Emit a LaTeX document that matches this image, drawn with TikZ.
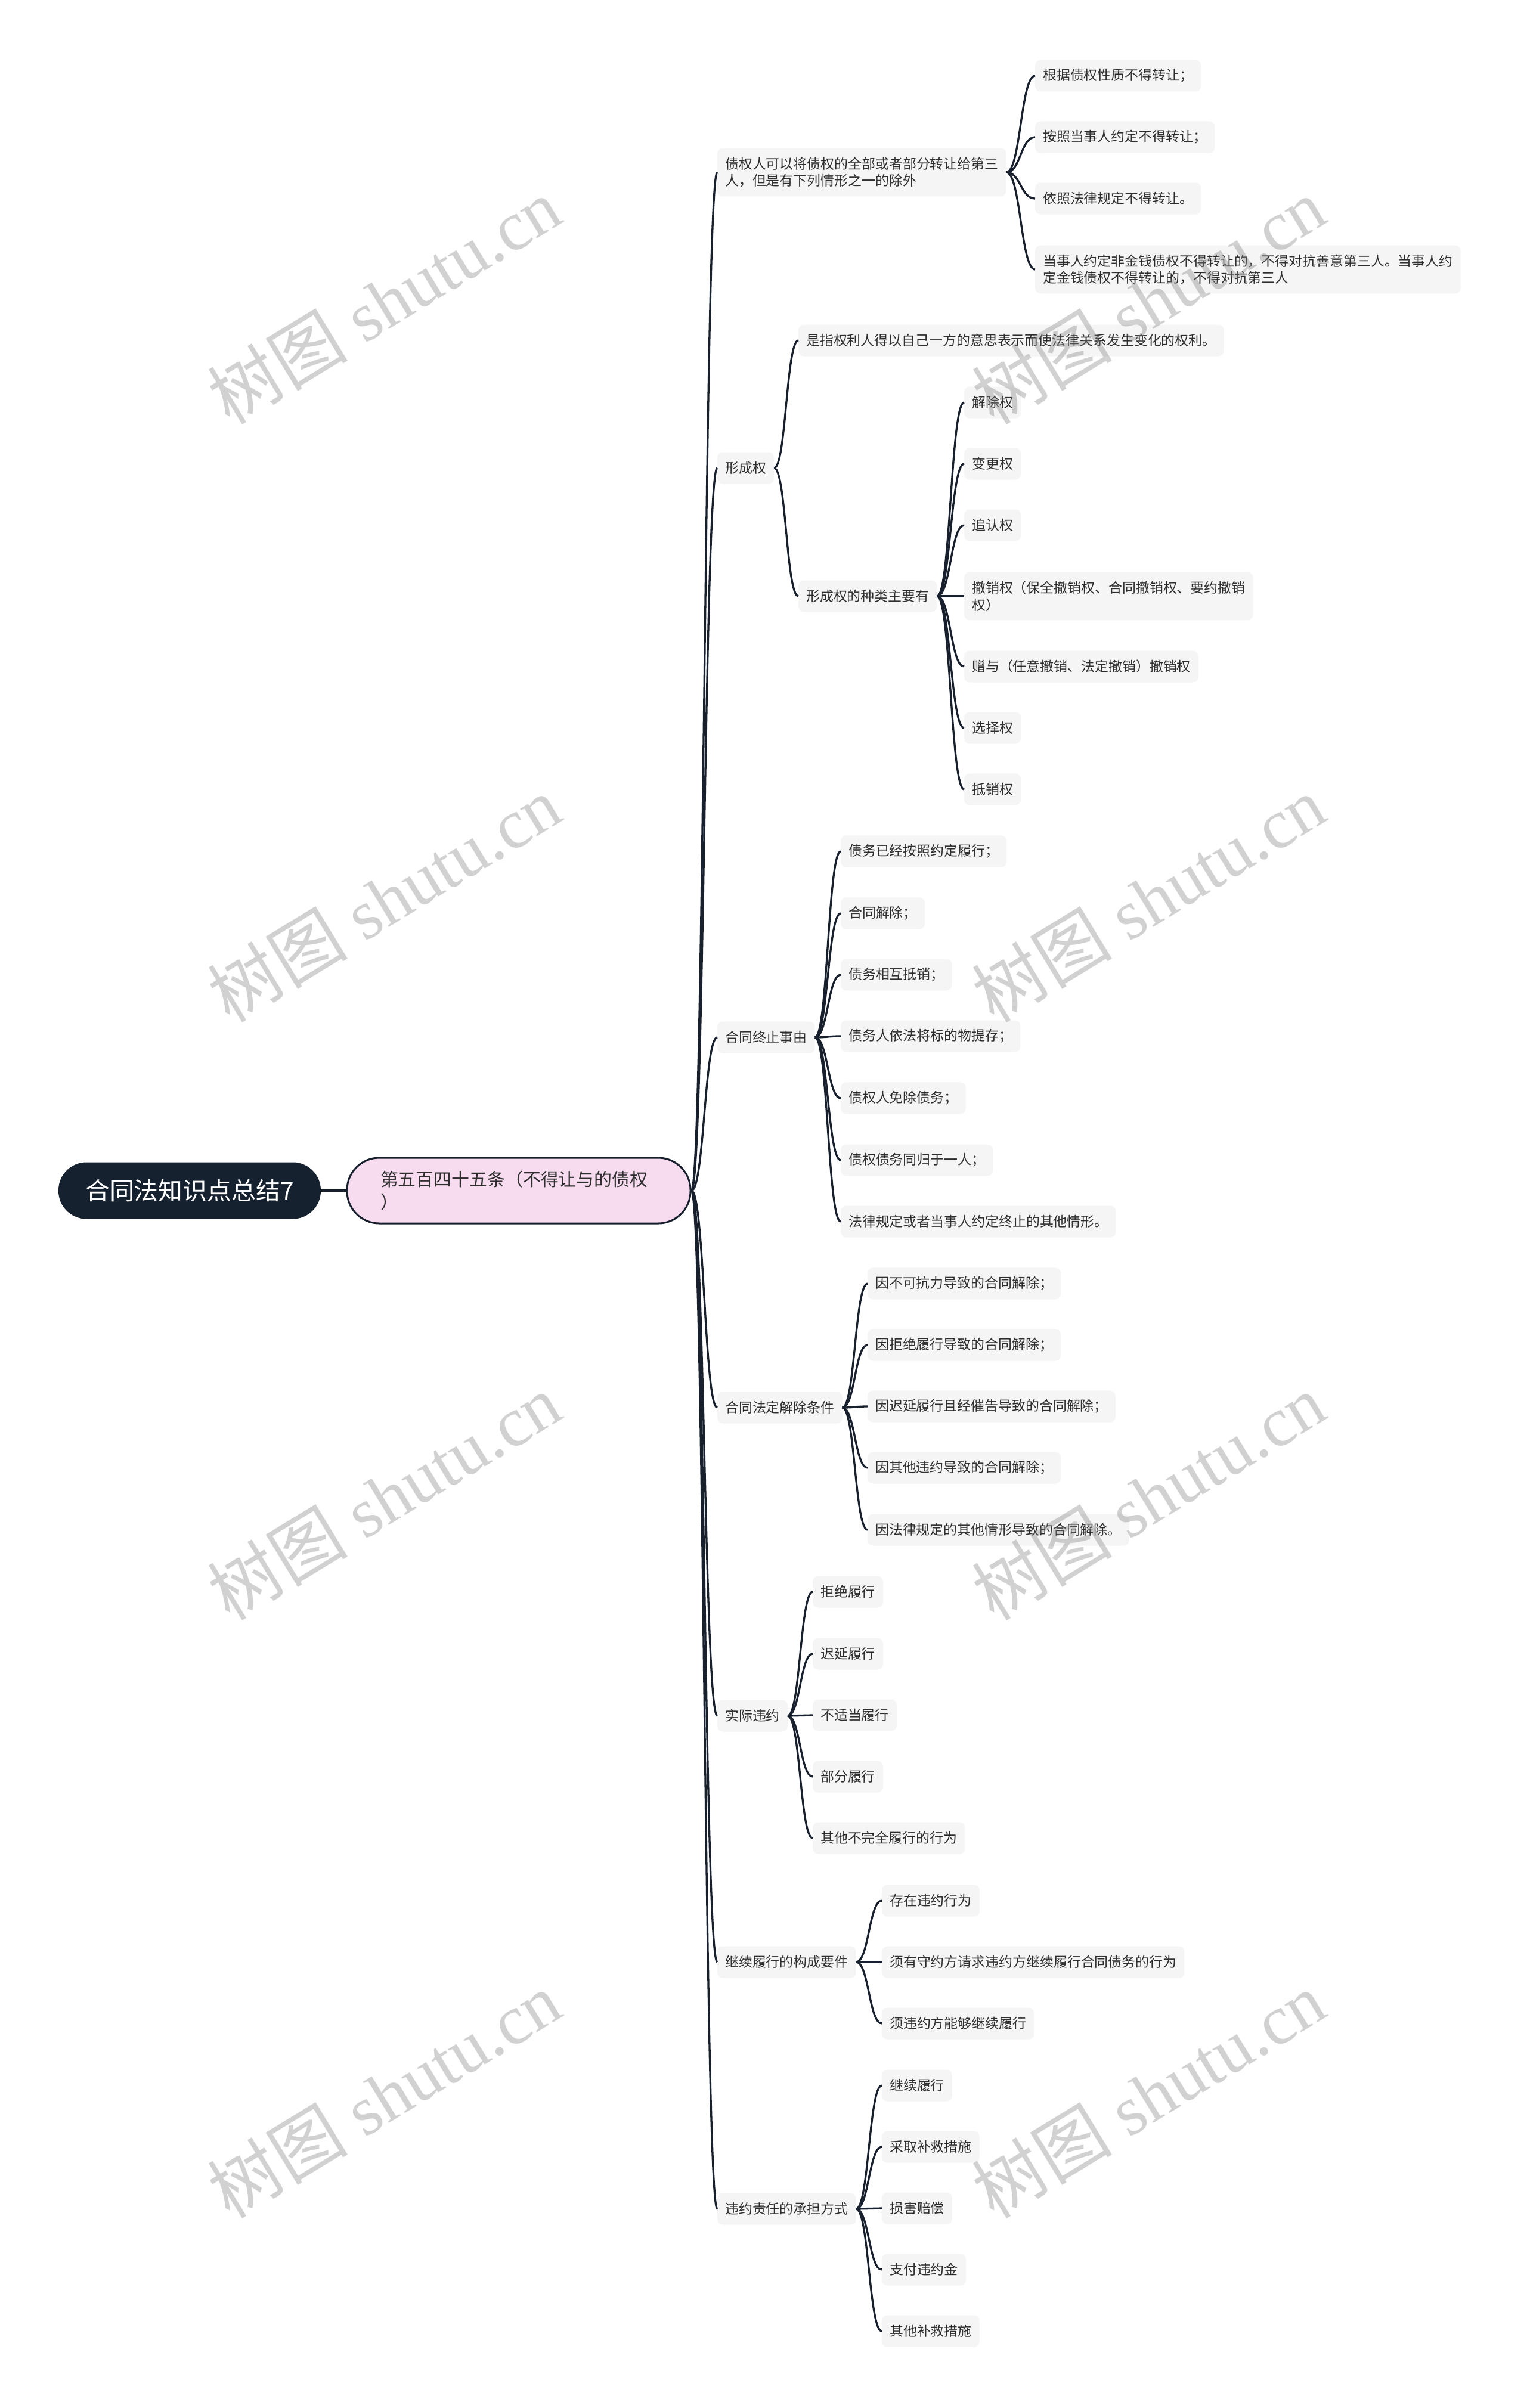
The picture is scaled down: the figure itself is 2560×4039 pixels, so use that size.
\documentclass[tikz,border=0pt]{standalone}
\usepackage{fontspec}
\setmainfont{Noto Sans CJK SC}
\newfontfamily\wmcjk{Noto Sans CJK SC}
\newfontfamily\wmlatin{Liberation Serif}
\usetikzlibrary{calc}
\definecolor{navy}{HTML}{16212F}
\definecolor{linec}{HTML}{18202E}
\definecolor{leaffill}{HTML}{F5F5F5}
\definecolor{pinkfill}{HTML}{F7DCF0}
\definecolor{txt}{HTML}{2E2E2E}
\definecolor{wm}{HTML}{808080}
\tikzset{
  leaf/.style={fill=leaffill, rounded corners=9bp, anchor=west, inner xsep=13bp, inner ysep=15bp,
    minimum height=53bp, align=left, text=txt, font=\fontsize{23}{29}\selectfont},
  rootbox/.style={fill=navy, text=white, minimum width=440bp, minimum height=95bp,
    rounded corners=47bp, inner sep=0pt, font=\fontsize{41}{46}\selectfont},
  pinkbox/.style={fill=pinkfill, draw=linec, line width=3bp, text=txt, text width=464bp,
    inner xsep=56bp, inner ysep=21bp, minimum height=110bp, rounded corners=54bp, align=left,
    font=\fontsize{30}{38}\selectfont},
  conn/.style={draw=linec, line width=3.3bp},
  wmark/.style={rotate=31.4, text=wm, text opacity=0.36, inner sep=0pt}
}
\newcommand\linkto[2]{\draw[conn] let \p1=(#1.east), \p2=(#2.west) in
  (\p1) .. controls ({0.5*\x1+0.5*\x2},\y1) and ({0.5*\x1+0.5*\x2},\y2) .. (\p2);}
\begin{document}
\begin{tikzpicture}[x=1bp,y=-1bp]
\fill[white] (0,0) rectangle (2560,4039);
\useasboundingbox (0,0) rectangle (2560,4039);

% root and main topic
\node[rootbox] (root) at (318,1997) {合同法知识点总结7};
\node[pinkbox] (main) at (870,1997) {第五百四十五条（不得让与的债权\\）};

% level 2
\node[leaf] (L1) at (1203,289) {债权人可以将债权的全部或者部分转让给第三\\人，但是有下列情形之一的除外};
\node[leaf] (L2) at (1203,785) {形成权};
\node[leaf] (L3) at (1203,1740) {合同终止事由};
\node[leaf] (L4) at (1203,2361) {合同法定解除条件};
\node[leaf] (L5) at (1203,2878) {实际违约};
\node[leaf] (L6) at (1203,3291) {继续履行的构成要件};
\node[leaf] (L7) at (1203,3705) {违约责任的承担方式};

% children of L1
\node[leaf] (A1) at (1736,127) {根据债权性质不得转让；};
\node[leaf] (A2) at (1736,230) {按照当事人约定不得转让；};
\node[leaf] (A3) at (1736,333) {依照法律规定不得转让。};
\node[leaf] (A4) at (1736,452) {当事人约定非金钱债权不得转让的，不得对抗善意第三人。当事人约\\定金钱债权不得转让的，不得对抗第三人};

% children of L2
\node[leaf] (B1) at (1339,571) {是指权利人得以自己一方的意思表示而使法律关系发生变化的权利。};
\node[leaf] (B2) at (1339,1000) {形成权的种类主要有};

% children of B2
\node[leaf] (C1) at (1617,675) {解除权};
\node[leaf] (C2) at (1617,778) {变更权};
\node[leaf] (C3) at (1617,881) {追认权};
\node[leaf] (C4) at (1617,1000) {撤销权（保全撤销权、合同撤销权、要约撤销\\权）};
\node[leaf] (C5) at (1617,1118) {赠与（任意撤销、法定撤销）撤销权};
\node[leaf] (C6) at (1617,1221) {选择权};
\node[leaf] (C7) at (1617,1324) {抵销权};

% children of L3
\node[leaf] (D1) at (1410,1428) {债务已经按照约定履行；};
\node[leaf] (D2) at (1410,1532) {合同解除；};
\node[leaf] (D3) at (1410,1635) {债务相互抵销；};
\node[leaf] (D4) at (1410,1738) {债务人依法将标的物提存；};
\node[leaf] (D5) at (1410,1842) {债权人免除债务；};
\node[leaf] (D6) at (1410,1946) {债权债务同归于一人；};
\node[leaf] (D7) at (1410,2049) {法律规定或者当事人约定终止的其他情形。};

% children of L4
\node[leaf] (E1) at (1455,2153) {因不可抗力导致的合同解除；};
\node[leaf] (E2) at (1455,2256) {因拒绝履行导致的合同解除；};
\node[leaf] (E3) at (1455,2359) {因迟延履行且经催告导致的合同解除；};
\node[leaf] (E4) at (1455,2462) {因其他违约导致的合同解除；};
\node[leaf] (E5) at (1455,2566) {因法律规定的其他情形导致的合同解除。};

% children of L5
\node[leaf] (F1) at (1363,2670) {拒绝履行};
\node[leaf] (F2) at (1363,2774) {迟延履行};
\node[leaf] (F3) at (1363,2877) {不适当履行};
\node[leaf] (F4) at (1363,2980) {部分履行};
\node[leaf] (F5) at (1363,3083) {其他不完全履行的行为};

% children of L6
\node[leaf] (G1) at (1479,3188) {存在违约行为};
\node[leaf] (G2) at (1479,3291) {须有守约方请求违约方继续履行合同债务的行为};
\node[leaf] (G3) at (1479,3394) {须违约方能够继续履行};

% children of L7
\node[leaf] (H1) at (1479,3498) {继续履行};
\node[leaf] (H2) at (1479,3601) {采取补救措施};
\node[leaf] (H3) at (1479,3704) {损害赔偿};
\node[leaf] (H4) at (1479,3807) {支付违约金};
\node[leaf] (H5) at (1479,3910) {其他补救措施};

% connectors
\draw[conn] (root.east) -- (main.west);
\foreach \c in {L1,L2,L3,L4,L5,L6,L7} {\linkto{main}{\c}}
\foreach \c in {A1,A2,A3,A4} {\linkto{L1}{\c}}
\foreach \c in {B1,B2} {\linkto{L2}{\c}}
\foreach \c in {C1,C2,C3,C4,C5,C6,C7} {\linkto{B2}{\c}}
\foreach \c in {D1,D2,D3,D4,D5,D6,D7} {\linkto{L3}{\c}}
\foreach \c in {E1,E2,E3,E4,E5} {\linkto{L4}{\c}}
\foreach \c in {F1,F2,F3,F4,F5} {\linkto{L5}{\c}}
\foreach \c in {G1,G2,G3} {\linkto{L6}{\c}}
\foreach \c in {H1,H2,H3,H4,H5} {\linkto{L7}{\c}}

% watermarks
\foreach \wy [count=\i] in {505,1508,2511,3514} {
  \node[wmark] (wl\i) at (644,\wy) {\fontsize{118}{118}\selectfont\wmcjk 树图\wmlatin\ shutu.cn};
  \node[wmark] (wr\i) at (1926,\wy) {\fontsize{118}{118}\selectfont\wmcjk 树图\wmlatin\ shutu.cn};
}
\end{tikzpicture}
\end{document}
